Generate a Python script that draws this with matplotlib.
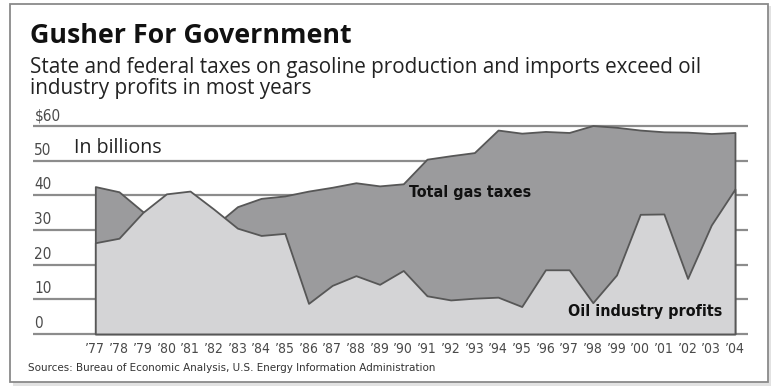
import matplotlib
matplotlib.use("Agg")
import matplotlib.pyplot as plt
from matplotlib import font_manager
from matplotlib.patches import Rectangle

# data (billions of dollars)
years = list(range(1977, 2005))
year_labels = ["\u201977", "\u201978", "\u201979", "\u201980", "\u201981", "\u201982", "\u201983",
               "\u201984", "\u201985", "\u201986", "\u201987", "\u201988", "\u201989", "\u201990",
               "\u201991", "\u201992", "\u201993", "\u201994", "\u201995", "\u201996", "\u201997",
               "\u201998", "\u201999", "\u201900", "\u201901", "\u201902", "\u201903", "\u201904"]
gas_taxes = [42.5, 41.0, 35.3, 33.0, 32.0, 31.0, 36.7, 39.1, 39.8, 41.2, 42.3, 43.6, 42.7, 43.3,
             50.4, 51.4, 52.3, 58.8, 57.9, 58.4, 58.1, 60.1, 59.6, 58.8, 58.3, 58.2, 57.8, 58.1]
oil_profits = [26.3, 27.6, 35.0, 40.4, 41.2, 36.0, 30.5, 28.4, 29.0, 8.8, 14.0, 16.8, 14.3, 18.3,
               11.0, 9.8, 10.3, 10.6, 7.9, 18.5, 18.5, 9.0, 17.0, 34.5, 34.6, 16.0, 31.4, 41.8]
y_ticks = [0, 10, 20, 30, 40, 50, 60]
y_labels = ["0", "10", "20", "30", "40", "50", "$60"]

# pick the narrowest face that is around
fonts = font_manager.fontManager.ttflist
names = {f.name for f in fonts}
if "Liberation Sans Narrow" in names:
    narrow = dict(family="Liberation Sans Narrow")
elif any(f.name == "DejaVu Sans" and f.stretch in ("condensed", 300) for f in fonts):
    narrow = dict(family="DejaVu Sans", stretch="condensed")
else:
    narrow = dict(family="Roboto")
head = ["Open Sans", "DejaVu Sans"]

dark = "#9b9b9d"
light = "#d4d4d6"
edge = "#575757"

W, H = 780, 390
fig = plt.figure(figsize=(7.8, 3.9), dpi=100)
fig.patch.set_facecolor("white")
rend = fig.canvas.get_renderer()


def fit(t, px):
    # scale the font so the text is px wide
    w = t.get_window_extent(rend).width
    t.set_fontsize(t.get_fontsize() * px / w)
    return t


# frame with a soft shadow
fig.patches.append(Rectangle((13 / W, 1 - 386 / H), 758 / W, 380 / H, transform=fig.transFigure,
                             facecolor="#e2e2e2", edgecolor="none", zorder=0))
fig.patches.append(Rectangle((10 / W, 1 - 382 / H), 758 / W, 378 / H, transform=fig.transFigure,
                             facecolor="white", edgecolor="#8a8a8a", lw=1.3, zorder=1))

ax = fig.add_axes([33 / W, 1 - 336 / H, 715 / W, 216 / H])
ax.set_zorder(2)
ax.patch.set_alpha(0)
ax.set_xlim(1974.37, 2004.55)
ax.set_ylim(-0.6, 61.7)

for v in y_ticks:
    ax.axhline(v, color="#8c8c8c", lw=1.6, zorder=1)
for v, lab in zip(y_ticks, y_labels):
    ax.annotate(lab, xy=(0, v), xycoords=("axes fraction", "data"), xytext=(1, 2),
                textcoords="offset points", ha="left", va="bottom",
                fontsize=11, color="#4a4a4a", **narrow)

ax.fill_between(years, 0, gas_taxes, facecolor=dark, edgecolor=edge, lw=1.3, zorder=2)
ax.fill_between(years, 0, oil_profits, facecolor=light, edgecolor=edge, lw=1.3, zorder=3)

ax.set_xticks(years)
ax.set_xticklabels(year_labels, fontsize=10, color="#4a4a4a", **narrow)
ax.tick_params(axis="x", length=0, pad=4)
ax.set_yticks([])
for s in ax.spines.values():
    s.set_visible(False)

fit(ax.text(1976.1, 53.5, "In billions", fontsize=12.5, family=head,
            color="#222222", ha="left", va="center"), 88)
ax.text(1992.8, 40.8, "Total gas taxes", fontsize=11.5, weight="bold",
        color="#111111", ha="center", va="center", **narrow)
ax.text(2000.2, 6.5, "Oil industry profits", fontsize=11.5, weight="bold",
        color="#111111", ha="center", va="center", **narrow)

fit(fig.text(30 / W, 1 - 43 / H, "Gusher For Government", fontsize=18.5, weight="bold",
             family=head, color="#111111", ha="left", va="baseline"), 322)
sub = fit(fig.text(30 / W, 1 - 73 / H,
                   "State and federal taxes on gasoline production and imports exceed oil",
                   fontsize=13.5, family=head, color="#222222", ha="left", va="baseline"), 672)
fig.text(30 / W, 1 - 94 / H, "industry profits in most years",
         fontsize=sub.get_fontsize(), family=head, color="#222222", ha="left", va="baseline")
fit(fig.text(28 / W, 1 - 368 / H,
             "Sources: Bureau of Economic Analysis, U.S. Energy Information Administration",
             fontsize=8.5, color="#333333", ha="left", va="center", **narrow), 405)

fig.savefig("out.png", dpi=100)
